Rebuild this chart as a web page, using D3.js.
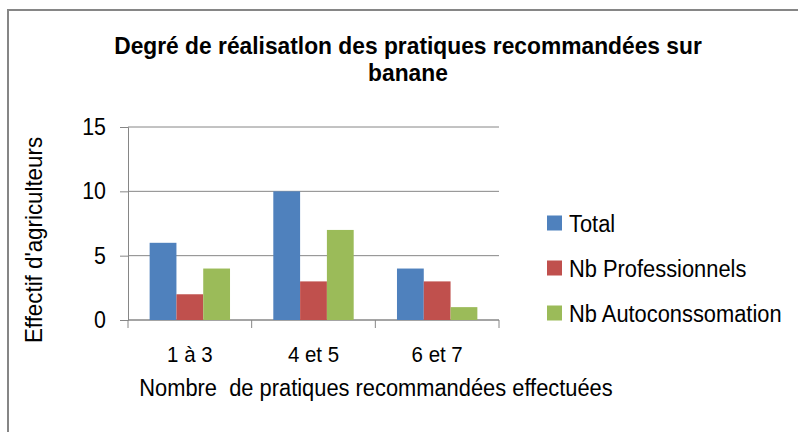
<!DOCTYPE html>
<html>
<head>
<meta charset="utf-8">
<script src="https://cdn.jsdelivr.net/npm/d3@7"></script>
<style>
  body { margin: 0; background: #fff; }
  svg { display: block; font-family: "Liberation Sans", Arial, sans-serif; }
</style>
</head>
<body>
<div id="chart"></div>
<script>
// data
const categories = ['1 à 3', '4 et 5', '6 et 7'];
const seriesNames = ['Total', 'Nb Professionnels', 'Nb Autoconssomation'];
const total = [6, 10, 4];
const professionnels = [2, 3, 3];
const autoconsommation = [4, 7, 1];
const yTicks = [0, 5, 10, 15];
const colors = ['#4F81BD', '#C0504D', '#9BBB59'];

const W = 798, H = 432;
const squeeze = 0.93; // text in the original looks slightly condensed

const svg = d3.select('#chart').append('svg')
    .attr('width', W)
    .attr('height', H);

// condense a text node horizontally
function fit(sel) {
    sel.each(function() {
        const len = this.getComputedTextLength();
        d3.select(this).attr('textLength', len * squeeze).attr('lengthAdjust', 'spacingAndGlyphs');
    });
    return sel;
}

// frame (only top and left edges are visible)
svg.append('path')
    .attr('d', `M8,${H} L8,10 L${W},10`)
    .attr('fill', 'none')
    .attr('stroke', '#868686')
    .attr('stroke-width', 2);

const plot = {left: 128, right: 499, top: 127, bottom: 320};

const x = d3.scaleBand()
    .domain(categories)
    .range([plot.left, plot.right])
    .paddingInner(0.35)
    .paddingOuter(0.175);

const xSub = d3.scaleBand()
    .domain(seriesNames)
    .range([0, x.bandwidth()]);

const y = d3.scaleLinear()
    .domain([0, 15])
    .range([plot.bottom, plot.top]);

// gridlines + y axis
const yAxis = svg.append('g')
    .attr('transform', `translate(${plot.left},0)`)
    .call(d3.axisLeft(y).tickValues(yTicks).tickSize(8).tickPadding(14));
yAxis.select('.domain').attr('stroke', '#868686');
yAxis.selectAll('.tick line').attr('stroke', '#868686');
yAxis.selectAll('.tick text')
    .attr('font-size', 23)
    .attr('fill', '#000')
    .attr('font-family', '"Liberation Sans", Arial, sans-serif')
    .call(fit);

svg.append('g')
    .selectAll('line')
    .data(yTicks)
    .join('line')
    .attr('x1', plot.left)
    .attr('x2', plot.right)
    .attr('y1', d => y(d))
    .attr('y2', d => y(d))
    .attr('stroke', '#868686');

// x axis with ticks at category boundaries
const step = x.step();
const bounds = d3.range(categories.length + 1).map(i => plot.left + i * step);
svg.append('line')
    .attr('x1', plot.left).attr('x2', plot.right)
    .attr('y1', plot.bottom).attr('y2', plot.bottom)
    .attr('stroke', '#868686');
svg.append('g')
    .selectAll('line')
    .data(bounds)
    .join('line')
    .attr('x1', d => d).attr('x2', d => d)
    .attr('y1', plot.bottom).attr('y2', plot.bottom + 8)
    .attr('stroke', '#868686');

svg.append('g')
    .selectAll('text')
    .data(categories)
    .join('text')
    .attr('x', d => x(d) + x.bandwidth() / 2)
    .attr('y', 362)
    .attr('text-anchor', 'middle')
    .attr('font-size', 22)
    .text(d => d)
    .call(fit);

// bars
const rows = categories.map((c, i) => ({cat: c, values: [total[i], professionnels[i], autoconsommation[i]]}));
svg.append('g')
    .selectAll('g')
    .data(rows)
    .join('g')
    .attr('transform', d => `translate(${x(d.cat)},0)`)
    .selectAll('rect')
    .data(d => d.values.map((v, j) => ({name: seriesNames[j], value: v, color: colors[j]})))
    .join('rect')
    .attr('x', d => xSub(d.name))
    .attr('y', d => y(d.value))
    .attr('width', xSub.bandwidth())
    .attr('height', d => y(0) - y(d.value))
    .attr('fill', d => d.color);

// title
const title = svg.append('g').attr('font-weight', 'bold').attr('font-size', 24.5).attr('text-anchor', 'middle');
title.append('text').attr('x', 408).attr('y', 54)
    .text('Degré de réalisatlon des pratiques recommandées sur').call(fit);
title.append('text').attr('x', 408).attr('y', 81)
    .text('banane').call(fit);

// axis titles
svg.append('text')
    .attr('transform', 'translate(42,240) rotate(-90)')
    .attr('text-anchor', 'middle')
    .attr('font-size', 24)
    .text("Effectif d'agriculteurs")
    .call(fit);

svg.append('text')
    .attr('x', 376)
    .attr('y', 396)
    .attr('text-anchor', 'middle')
    .attr('font-size', 23.5)
    .style('white-space', 'pre')
    .text('Nombre  de pratiques recommandées effectuées')
    .call(fit);

// legend
const legend = svg.append('g')
    .selectAll('g')
    .data(seriesNames)
    .join('g')
    .attr('transform', (d, i) => `translate(547,${223 + i * 45})`);
legend.append('rect')
    .attr('x', 0).attr('y', -7.5)
    .attr('width', 15).attr('height', 15)
    .attr('fill', (d, i) => colors[i]);
legend.append('text')
    .attr('x', 22)
    .attr('y', 8.5)
    .attr('font-size', 23.5)
    .text(d => d)
    .call(fit);
</script>
</body>
</html>
